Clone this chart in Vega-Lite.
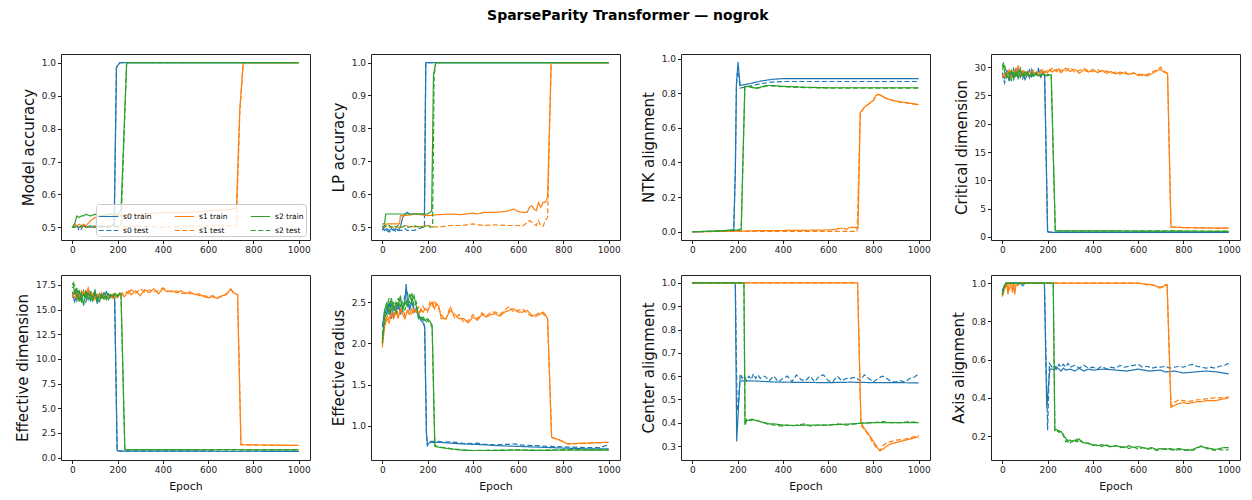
{
"$schema": "https://vega.github.io/schema/vega-lite/v6.json",
"padding": {"left": 14, "top": 8, "right": 5, "bottom": 5},
"background": "white",
"title": {"text": "SparseParity Transformer — nogrok", "fontSize": 14, "fontWeight": "bold", "font": "DejaVu Sans", "anchor": "middle", "color": "#000", "offset": 31},
"data": {"values": [
{"p":1,"x":0,"a":0.5,"b":0.5,"c":0.5,"d":0.5,"e":0.5,"f":0.5},
{"p":1,"x":10,"a":0.5,"b":0.51,"c":0.51,"d":0.5,"e":0.51,"f":0.5},
{"p":1,"x":20,"a":0.505,"b":0.51,"c":0.505,"d":0.505,"e":0.535,"f":0.505},
{"p":1,"x":30,"a":0.5,"b":0.49,"c":0.51,"d":0.5,"e":0.53,"f":0.5},
{"p":1,"x":40,"a":0.5,"b":0.495,"c":0.505,"d":0.5,"e":0.535,"f":0.505},
{"p":1,"x":50,"a":0.505,"b":0.51,"c":0.51,"d":0.505,"e":0.535,"f":0.5},
{"p":1,"x":60,"a":0.5,"b":0.5,"c":0.505,"d":0.5,"e":0.54,"f":0.5},
{"p":1,"x":80,"a":0.505,"b":0.5,"c":0.52,"d":0.5,"e":0.535,"f":0.505},
{"p":1,"x":100,"a":0.5,"b":0.505,"c":0.53,"d":0.505,"e":0.54,"f":0.5},
{"p":1,"x":130,"a":0.505,"b":0.5,"c":0.535,"d":0.5,"e":0.535,"f":0.505},
{"p":1,"x":160,"a":0.5,"b":0.505,"c":0.54,"d":0.505,"e":0.54,"f":0.5},
{"p":1,"x":185,"a":0.51,"b":0.505},
{"p":1,"x":195,"a":0.985,"b":0.985},
{"p":1,"x":200,"c":0.535,"d":0.5,"e":0.54,"f":0.505},
{"p":1,"x":210,"a":1,"b":1},
{"p":1,"x":215,"e":0.55,"f":0.505},
{"p":1,"x":240,"e":1,"f":1},
{"p":1,"x":300,"c":0.54,"d":0.505},
{"p":1,"x":400,"c":0.545,"d":0.5},
{"p":1,"x":500,"c":0.545,"d":0.505},
{"p":1,"x":600,"c":0.55,"d":0.505},
{"p":1,"x":700,"c":0.555,"d":0.505},
{"p":1,"x":725,"c":0.56,"d":0.505},
{"p":1,"x":740,"c":0.86,"d":0.85},
{"p":1,"x":755,"c":1,"d":1},
{"p":1,"x":1000,"a":1,"b":1,"c":1,"d":1,"e":1,"f":1},

{"p":2,"x":0,"a":0.5,"b":0.49,"c":0.5,"d":0.5,"e":0.51,"f":0.5},
{"p":2,"x":10,"a":0.49,"b":0.5,"c":0.505,"d":0.5,"e":0.51,"f":0.505},
{"p":2,"x":15,"e":0.54},
{"p":2,"x":20,"a":0.495,"b":0.49,"c":0.51,"d":0.505,"e":0.54,"f":0.5},
{"p":2,"x":30,"a":0.49,"b":0.485,"c":0.51,"d":0.5,"e":0.54,"f":0.505},
{"p":2,"x":40,"a":0.495,"b":0.49,"c":0.51,"d":0.5,"e":0.54,"f":0.5},
{"p":2,"x":50,"a":0.49,"b":0.495,"c":0.51,"d":0.5,"e":0.54,"f":0.505},
{"p":2,"x":60,"a":0.495,"b":0.485,"c":0.51,"d":0.5,"e":0.54,"f":0.5},
{"p":2,"x":70,"a":0.49,"b":0.49,"c":0.51,"d":0.5,"e":0.54,"f":0.505},
{"p":2,"x":76,"c":0.51},
{"p":2,"x":80,"a":0.5,"b":0.49,"c":0.535,"d":0.5,"e":0.54,"f":0.5},
{"p":2,"x":90,"a":0.53,"b":0.49,"e":0.54,"f":0.5},
{"p":2,"x":100,"a":0.54,"b":0.495,"c":0.535,"d":0.505,"e":0.54,"f":0.505},
{"p":2,"x":110,"a":0.545,"b":0.49,"e":0.54,"f":0.5},
{"p":2,"x":120,"a":0.54,"b":0.49,"e":0.54,"f":0.5},
{"p":2,"x":140,"a":0.54,"b":0.49,"e":0.54,"f":0.505},
{"p":2,"x":150,"c":0.54,"d":0.5},
{"p":2,"x":160,"a":0.54,"b":0.495,"e":0.54,"f":0.5},
{"p":2,"x":180,"a":0.54,"b":0.5,"e":0.54,"f":0.5},
{"p":2,"x":186,"a":0.54,"b":0.5},
{"p":2,"x":192,"a":1,"b":1},
{"p":2,"x":200,"c":0.535,"d":0.505,"e":0.54,"f":0.505},
{"p":2,"x":212,"e":0.545,"f":0.5},
{"p":2,"x":218,"e":0.55},
{"p":2,"x":222,"f":0.5},
{"p":2,"x":226,"e":0.96},
{"p":2,"x":229,"f":0.96},
{"p":2,"x":236,"e":1,"f":1},
{"p":2,"x":250,"c":0.538,"d":0.5},
{"p":2,"x":300,"c":0.54,"d":0.505},
{"p":2,"x":350,"c":0.538,"d":0.505},
{"p":2,"x":400,"c":0.543,"d":0.51},
{"p":2,"x":420,"c":0.54},
{"p":2,"x":450,"c":0.545,"d":0.505},
{"p":2,"x":500,"c":0.545,"d":0.507},
{"p":2,"x":550,"c":0.548,"d":0.505},
{"p":2,"x":580,"c":0.555,"d":0.505},
{"p":2,"x":600,"c":0.548,"d":0.505},
{"p":2,"x":620,"c":0.545,"d":0.503},
{"p":2,"x":640,"c":0.545},
{"p":2,"x":650,"c":0.56,"d":0.52},
{"p":2,"x":660,"c":0.565},
{"p":2,"x":670,"c":0.555,"d":0.51},
{"p":2,"x":680,"c":0.55,"d":0.505},
{"p":2,"x":690,"c":0.575,"d":0.52},
{"p":2,"x":700,"c":0.56,"d":0.505},
{"p":2,"x":710,"c":0.575,"d":0.502},
{"p":2,"x":720,"c":0.575,"d":0.52},
{"p":2,"x":730,"c":0.59,"d":0.53},
{"p":2,"x":746,"c":1,"d":1},
{"p":2,"x":1000,"a":1,"b":1,"c":1,"d":1,"e":1,"f":1},

{"p":3,"x":0,"a":0,"b":0,"c":0,"d":0,"e":0,"f":0},
{"p":3,"x":100,"a":0.002,"b":0.002,"e":0.003,"f":0.003},
{"p":3,"x":183,"a":0.01,"b":0.01},
{"p":3,"x":190,"a":0.35,"b":0.35},
{"p":3,"x":195,"a":0.86,"b":0.85},
{"p":3,"x":200,"c":0.003,"d":0.002,"e":0.01,"f":0.008},
{"p":3,"x":202,"a":0.98,"b":0.95},
{"p":3,"x":211,"a":0.845,"b":0.83},
{"p":3,"x":216,"e":0.015,"f":0.013},
{"p":3,"x":232,"e":0.84,"f":0.835},
{"p":3,"x":250,"a":0.855,"b":0.84,"e":0.84,"f":0.838},
{"p":3,"x":280,"e":0.83,"f":0.828},
{"p":3,"x":300,"a":0.87,"b":0.855,"c":0.006,"d":0.002,"e":0.835,"f":0.832},
{"p":3,"x":330,"e":0.845,"f":0.843},
{"p":3,"x":350,"a":0.88,"b":0.865,"e":0.845,"f":0.843},
{"p":3,"x":400,"a":0.885,"b":0.868,"c":0.007,"d":0.002,"e":0.84,"f":0.838},
{"p":3,"x":500,"c":0.008,"d":0.002,"e":0.835,"f":0.833},
{"p":3,"x":600,"c":0.01,"d":0.002,"e":0.832,"f":0.83},
{"p":3,"x":630,"c":0.012},
{"p":3,"x":650,"c":0.02},
{"p":3,"x":670,"c":0.02},
{"p":3,"x":680,"c":0.012},
{"p":3,"x":690,"c":0.022},
{"p":3,"x":700,"c":0.025,"d":0.002},
{"p":3,"x":720,"c":0.025},
{"p":3,"x":728,"d":0.002},
{"p":3,"x":732,"c":0.02},
{"p":3,"x":742,"c":0.69,"d":0.685},
{"p":3,"x":750,"c":0.7,"d":0.7},
{"p":3,"x":760,"c":0.72,"d":0.718},
{"p":3,"x":780,"c":0.74,"d":0.738},
{"p":3,"x":800,"c":0.76,"d":0.758},
{"p":3,"x":810,"c":0.785,"d":0.783},
{"p":3,"x":820,"c":0.795,"d":0.793},
{"p":3,"x":830,"c":0.79,"d":0.79},
{"p":3,"x":850,"c":0.775,"d":0.773},
{"p":3,"x":870,"c":0.765,"d":0.763},
{"p":3,"x":900,"c":0.755,"d":0.753},
{"p":3,"x":950,"c":0.745,"d":0.743},
{"p":3,"x":1000,"a":0.885,"b":0.868,"c":0.735,"d":0.733,"e":0.832,"f":0.83},

{"p":4,"x":0,"a":28.5,"b":29,"c":28,"d":28.5,"e":30,"f":29.5},
{"p":4,"x":5,"e":30.8},
{"p":4,"x":10,"a":28,"b":27.2,"c":29,"d":28.4,"e":29,"f":30.5},
{"p":4,"x":20,"a":29.5,"b":28.5,"c":28.3,"d":29.2,"e":28.5,"f":28.2},
{"p":4,"x":30,"a":27.5,"b":29.2,"c":29.5,"d":28.6,"e":28,"f":29},
{"p":4,"x":40,"a":29,"b":28,"c":28,"d":29.4,"e":29.5,"f":27.5},
{"p":4,"x":50,"a":28.2,"b":29.7,"c":29.3,"d":28.7,"e":27.8,"f":29.3},
{"p":4,"x":60,"a":29.8,"b":28.4,"c":28.5,"d":29.8,"e":29,"f":28.1},
{"p":4,"x":70,"a":28,"b":28.9,"c":30.3,"d":29.1,"e":28.3,"f":29.6},
{"p":4,"x":80,"a":28.8,"b":29.8,"c":28.3,"d":28.8,"e":29.5,"f":28.2},
{"p":4,"x":90,"a":29.3,"b":27.9,"c":29,"d":29.4,"e":28.4,"f":29},
{"p":4,"x":100,"a":27.8,"b":28.8,"c":28.6,"d":28.9,"e":29.2,"f":28.5},
{"p":4,"x":110,"a":28.6,"b":29.2,"c":29.2,"d":28.6,"e":28.6,"f":29.3},
{"p":4,"x":120,"a":29.5,"b":28.1,"c":28.4,"d":29.3,"e":28.2,"f":28.4},
{"p":4,"x":130,"a":28.3,"b":29.6,"c":29.3,"d":28.9,"e":29,"f":28.9},
{"p":4,"x":140,"a":29,"b":28.5,"c":28.8,"d":29.4,"e":28.5,"f":28.2},
{"p":4,"x":150,"a":28.6,"b":28.9,"c":29,"d":28.7,"e":28.8,"f":29.1},
{"p":4,"x":160,"a":29.4,"b":29.7,"c":28.6,"d":29.3,"e":28.4,"f":28.7},
{"p":4,"x":170,"a":28.4,"b":28.2,"c":29.5,"d":29,"e":28.6,"f":28.5},
{"p":4,"x":180,"a":29.2,"b":28.8,"c":28.8,"d":29.6,"e":28.7,"f":28.9},
{"p":4,"x":187,"a":28.5,"b":28.4},
{"p":4,"x":190,"c":29.3,"d":29,"e":28.5,"f":28.6},
{"p":4,"x":200,"a":0.9,"b":1.0,"c":29,"d":29.4,"e":28.7,"f":28.4},
{"p":4,"x":210,"a":0.8,"b":0.85,"c":29.6,"d":29.2,"e":28.6,"f":28.7},
{"p":4,"x":216,"e":28.6,"f":28.6},
{"p":4,"x":220,"c":29.1,"d":29.8},
{"p":4,"x":230,"c":29.5,"d":29.3},
{"p":4,"x":234,"e":1.1,"f":1.1},
{"p":4,"x":240,"c":29.2,"d":29.6},
{"p":4,"x":250,"c":29.7,"d":29},
{"p":4,"x":260,"c":29,"d":29.5},
{"p":4,"x":280,"c":29.8,"d":29.3},
{"p":4,"x":300,"c":29.2,"d":29.9},
{"p":4,"x":320,"c":29.6,"d":29.1},
{"p":4,"x":340,"c":28.9,"d":29.4},
{"p":4,"x":360,"c":29.5,"d":29.8},
{"p":4,"x":380,"c":29.1,"d":29.3},
{"p":4,"x":400,"c":29.6,"d":29.2},
{"p":4,"x":420,"c":29,"d":29.6},
{"p":4,"x":440,"c":29.4,"d":29.1},
{"p":4,"x":460,"c":28.9,"d":29.3},
{"p":4,"x":480,"c":29.2,"d":28.9},
{"p":4,"x":500,"c":28.8,"d":29.1},
{"p":4,"x":520,"c":29.1,"d":28.7},
{"p":4,"x":540,"c":28.9,"d":29.2},
{"p":4,"x":560,"c":28.7,"d":28.6},
{"p":4,"x":580,"c":29,"d":28.9},
{"p":4,"x":600,"c":28.5,"d":28.8},
{"p":4,"x":620,"c":28.7,"d":28.5},
{"p":4,"x":640,"c":28.4,"d":28.7},
{"p":4,"x":660,"c":28.8,"d":29.1},
{"p":4,"x":680,"c":29.3,"d":29.4},
{"p":4,"x":700,"c":29.6,"d":30},
{"p":4,"x":710,"c":29.2,"d":29.5},
{"p":4,"x":720,"c":29,"d":29.1},
{"p":4,"x":730,"c":28.8,"d":28.9},
{"p":4,"x":745,"c":1.8,"d":1.8},
{"p":4,"x":800,"c":1.65,"d":1.65},
{"p":4,"x":1000,"a":0.8,"b":0.85,"c":1.55,"d":1.55,"e":1.0,"f":1.05},

{"p":5,"x":0,"a":16.8,"b":16.2,"c":16.3,"d":16.5,"e":17.5,"f":17.2},
{"p":5,"x":5,"e":17.7},
{"p":5,"x":10,"a":15.8,"b":16.9,"c":16.9,"d":16.2,"e":16.5,"f":17.5},
{"p":5,"x":20,"a":16.5,"b":15.9,"c":16.1,"d":16.8,"e":17.2,"f":16.2},
{"p":5,"x":30,"a":16.9,"b":16.6,"c":16.6,"d":16.2,"e":15.8,"f":16.9},
{"p":5,"x":40,"a":16,"b":16.3,"c":16.3,"d":16.9,"e":16.8,"f":15.6},
{"p":5,"x":50,"a":16.6,"b":16.9,"c":16.8,"d":16.4,"e":15.4,"f":16.5},
{"p":5,"x":60,"a":16.2,"b":15.8,"c":16.5,"d":17,"e":16.9,"f":16.1},
{"p":5,"x":70,"a":16.8,"b":16.5,"c":17.2,"d":16.6,"e":16,"f":16.8},
{"p":5,"x":80,"a":15.9,"b":17,"c":16.3,"d":16.9,"e":16.6,"f":15.9},
{"p":5,"x":90,"a":16.4,"b":16.1,"c":16.6,"d":16.2,"e":15.8,"f":16.4},
{"p":5,"x":100,"a":16.9,"b":16.5,"c":16,"d":16.7,"e":16.9,"f":16.6},
{"p":5,"x":110,"a":15.6,"b":16.2,"c":16.5,"d":16.3,"e":16.2,"f":15.9},
{"p":5,"x":120,"a":16.3,"b":16.7,"c":16.2,"d":16.6,"e":15.8,"f":16.6},
{"p":5,"x":130,"a":16.6,"b":16,"c":16.7,"d":16.3,"e":16.5,"f":16.2},
{"p":5,"x":140,"a":16.1,"b":16.6,"c":16.1,"d":16.6,"e":16.1,"f":16.7},
{"p":5,"x":150,"a":16.8,"b":16.3,"c":16.4,"d":16.2,"e":16.4,"f":16},
{"p":5,"x":160,"a":16.4,"b":16.7,"c":16.2,"d":16.5,"e":16,"f":16.6},
{"p":5,"x":170,"a":16.5,"b":16.2,"c":16.5,"d":16.3,"e":16.5,"f":16.2},
{"p":5,"x":180,"a":16.3,"b":16.5,"c":16.1,"d":16.6,"e":16.3,"f":16.4},
{"p":5,"x":187,"a":16.2,"b":16.4},
{"p":5,"x":190,"c":16.4,"d":16.3,"e":16.6,"f":16.7},
{"p":5,"x":198,"a":0.7,"b":0.7},
{"p":5,"x":200,"c":16.2,"d":16.5,"e":16.4,"f":16.3},
{"p":5,"x":210,"a":0.65,"b":0.65,"c":16.6,"d":16.4,"e":16.7,"f":16.6},
{"p":5,"x":215,"e":16.6,"f":16.6},
{"p":5,"x":220,"c":16.5,"d":16.7},
{"p":5,"x":230,"c":16.3,"d":16.5},
{"p":5,"x":232,"e":0.8,"f":0.8},
{"p":5,"x":240,"c":16.6,"d":16.8},
{"p":5,"x":250,"c":16.9,"d":16.6},
{"p":5,"x":260,"c":16.5,"d":17},
{"p":5,"x":280,"c":16.9,"d":16.6},
{"p":5,"x":300,"c":16.4,"d":17.1},
{"p":5,"x":320,"c":17,"d":16.8},
{"p":5,"x":340,"c":16.7,"d":17},
{"p":5,"x":360,"c":17.1,"d":16.8},
{"p":5,"x":380,"c":16.6,"d":16.9},
{"p":5,"x":400,"c":17.1,"d":17.2},
{"p":5,"x":420,"c":16.8,"d":16.9},
{"p":5,"x":440,"c":16.9,"d":16.8},
{"p":5,"x":460,"c":16.7,"d":16.9},
{"p":5,"x":480,"c":16.9,"d":16.6},
{"p":5,"x":500,"c":16.6,"d":16.7},
{"p":5,"x":520,"c":16.8,"d":16.6},
{"p":5,"x":540,"c":16.5,"d":16.6},
{"p":5,"x":560,"c":16.6,"d":16.4},
{"p":5,"x":580,"c":16.3,"d":16.4},
{"p":5,"x":600,"c":16.2,"d":16.3},
{"p":5,"x":620,"c":16.3,"d":16.4},
{"p":5,"x":640,"c":16.1,"d":16.2},
{"p":5,"x":660,"c":16.4,"d":16.3},
{"p":5,"x":680,"c":16.5,"d":16.6},
{"p":5,"x":700,"c":17.1,"d":17},
{"p":5,"x":710,"c":16.7,"d":16.8},
{"p":5,"x":720,"c":16.6,"d":16.6},
{"p":5,"x":730,"c":16.5,"d":16.5},
{"p":5,"x":745,"c":1.3,"d":1.3},
{"p":5,"x":800,"c":1.28,"d":1.28},
{"p":5,"x":1000,"a":0.63,"b":0.63,"c":1.22,"d":1.22,"e":0.78,"f":0.8},

{"p":6,"x":0,"a":2.2,"b":2.1,"c":1.95,"d":2.0,"e":2.0,"f":2.05},
{"p":6,"x":10,"a":2.4,"b":2.3,"c":2.2,"d":2.25,"e":2.4,"f":2.25},
{"p":6,"x":20,"a":2.35,"b":2.45,"c":2.3,"d":2.35,"e":2.5,"f":2.45},
{"p":6,"x":30,"a":2.5,"b":2.35,"c":2.25,"d":2.28,"e":2.35,"f":2.55},
{"p":6,"x":40,"a":2.3,"b":2.5,"c":2.35,"d":2.4,"e":2.55,"f":2.4},
{"p":6,"x":50,"a":2.45,"b":2.3,"c":2.3,"d":2.32,"e":2.4,"f":2.5},
{"p":6,"x":60,"a":2.38,"b":2.48,"c":2.4,"d":2.45,"e":2.5,"f":2.35},
{"p":6,"x":70,"a":2.5,"b":2.4,"c":2.3,"d":2.35,"e":2.45,"f":2.55},
{"p":6,"x":80,"a":2.35,"b":2.55,"c":2.42,"d":2.38,"e":2.58,"f":2.45},
{"p":6,"x":90,"a":2.45,"b":2.38,"c":2.35,"d":2.42,"e":2.4,"f":2.5},
{"p":6,"x":100,"a":2.5,"b":2.6,"c":2.3,"d":2.33,"e":2.5,"f":2.4},
{"p":6,"x":105,"a":2.72},
{"p":6,"x":110,"a":2.55,"b":2.62,"c":2.4,"d":2.38,"e":2.45,"f":2.55},
{"p":6,"x":120,"a":2.4,"b":2.45,"c":2.35,"d":2.4,"e":2.6,"f":2.5},
{"p":6,"x":130,"a":2.5,"b":2.55,"c":2.42,"d":2.36,"e":2.5,"f":2.62},
{"p":6,"x":140,"a":2.42,"b":2.38,"c":2.38,"d":2.43,"e":2.58,"f":2.45},
{"p":6,"x":150,"a":2.38,"b":2.45,"c":2.4,"d":2.37,"e":2.45,"f":2.5},
{"p":6,"x":160,"a":2.35,"b":2.3,"c":2.35,"d":2.44,"e":2.35,"f":2.32},
{"p":6,"x":170,"a":2.28,"b":2.32,"c":2.42,"d":2.38,"e":2.3,"f":2.28},
{"p":6,"x":180,"a":2.25,"b":2.28,"c":2.38,"d":2.45,"e":2.32,"f":2.3},
{"p":6,"x":187,"a":2.2,"b":2.2},
{"p":6,"x":190,"c":2.42,"d":2.4,"e":2.28,"f":2.25},
{"p":6,"x":195,"a":0.9,"b":0.92},
{"p":6,"x":199,"a":0.77,"b":0.76},
{"p":6,"x":200,"c":2.4,"d":2.38,"e":2.3,"f":2.28},
{"p":6,"x":210,"a":0.8,"b":0.81,"c":2.45,"d":2.5,"e":2.27,"f":2.25},
{"p":6,"x":220,"c":2.5,"d":2.45,"e":2.22,"f":2.2},
{"p":6,"x":230,"c":2.42,"d":2.52},
{"p":6,"x":232,"e":0.75,"f":0.76},
{"p":6,"x":240,"c":2.48,"d":2.45},
{"p":6,"x":250,"a":0.8,"b":0.81,"c":2.45,"d":2.42,"e":0.74,"f":0.745},
{"p":6,"x":260,"c":2.3,"d":2.35},
{"p":6,"x":270,"b":0.8},
{"p":6,"x":280,"c":2.3,"d":2.28},
{"p":6,"x":300,"a":0.79,"b":0.805,"c":2.4,"d":2.45,"e":0.72,"f":0.725},
{"p":6,"x":320,"c":2.35,"d":2.3},
{"p":6,"x":340,"c":2.3,"d":2.35},
{"p":6,"x":350,"a":0.78,"b":0.79,"e":0.705,"f":0.71},
{"p":6,"x":360,"c":2.3,"d":2.25},
{"p":6,"x":380,"c":2.25,"d":2.28},
{"p":6,"x":400,"a":0.775,"b":0.785,"c":2.32,"d":2.35,"e":0.7,"f":0.7},
{"p":6,"x":420,"b":0.79,"c":2.28,"d":2.3},
{"p":6,"x":440,"c":2.35,"d":2.37},
{"p":6,"x":450,"a":0.77,"b":0.775},
{"p":6,"x":460,"c":2.32,"d":2.33},
{"p":6,"x":480,"c":2.35,"d":2.38},
{"p":6,"x":500,"a":0.76,"b":0.77,"c":2.36,"d":2.38,"e":0.7,"f":0.705},
{"p":6,"x":520,"c":2.33,"d":2.35},
{"p":6,"x":540,"c":2.38,"d":2.4},
{"p":6,"x":550,"b":0.775},
{"p":6,"x":560,"c":2.4,"d":2.45},
{"p":6,"x":580,"b":0.78,"c":2.42,"d":2.38},
{"p":6,"x":600,"a":0.75,"c":2.38,"d":2.4,"e":0.705,"f":0.708},
{"p":6,"x":620,"b":0.765,"c":2.38,"d":2.42},
{"p":6,"x":640,"c":2.4,"d":2.36},
{"p":6,"x":660,"c":2.34,"d":2.33},
{"p":6,"x":680,"c":2.33,"d":2.35},
{"p":6,"x":700,"a":0.74,"b":0.755,"c":2.36,"d":2.38,"e":0.7,"f":0.705},
{"p":6,"x":710,"c":2.38,"d":2.36},
{"p":6,"x":720,"c":2.35,"d":2.33},
{"p":6,"x":730,"c":2.3,"d":2.3},
{"p":6,"x":748,"c":0.86,"d":0.86},
{"p":6,"x":780,"c":0.83,"d":0.83},
{"p":6,"x":800,"a":0.73,"b":0.745,"e":0.705,"f":0.71},
{"p":6,"x":820,"c":0.78,"d":0.78},
{"p":6,"x":900,"a":0.72,"b":0.735,"c":0.79,"d":0.79,"e":0.705,"f":0.71},
{"p":6,"x":960,"b":0.735},
{"p":6,"x":1000,"a":0.72,"b":0.77,"c":0.8,"d":0.8,"e":0.705,"f":0.71},

{"p":7,"x":0,"a":1,"b":1,"c":1,"d":1,"e":1,"f":1},
{"p":7,"x":190,"a":1,"b":1},
{"p":7,"x":196,"a":0.32},
{"p":7,"x":198,"b":0.45},
{"p":7,"x":205,"b":0.5},
{"p":7,"x":210,"a":0.58},
{"p":7,"x":212,"b":0.61},
{"p":7,"x":220,"b":0.59},
{"p":7,"x":228,"e":1,"f":1},
{"p":7,"x":230,"b":0.6},
{"p":7,"x":233,"e":0.39,"f":0.39},
{"p":7,"x":240,"b":0.58,"e":0.41,"f":0.415},
{"p":7,"x":250,"a":0.58,"b":0.6,"e":0.41},
{"p":7,"x":260,"b":0.585,"e":0.415,"f":0.41},
{"p":7,"x":270,"b":0.61,"f":0.415},
{"p":7,"x":280,"b":0.59,"e":0.41},
{"p":7,"x":290,"b":0.605},
{"p":7,"x":300,"a":0.578,"b":0.59,"e":0.405,"f":0.405},
{"p":7,"x":320,"b":0.6,"e":0.4},
{"p":7,"x":330,"f":0.395},
{"p":7,"x":340,"b":0.58,"e":0.395},
{"p":7,"x":350,"a":0.575},
{"p":7,"x":360,"b":0.6,"e":0.395,"f":0.39},
{"p":7,"x":380,"b":0.575},
{"p":7,"x":400,"a":0.574,"b":0.59,"e":0.39,"f":0.385},
{"p":7,"x":420,"b":0.6,"f":0.39},
{"p":7,"x":440,"b":0.575,"f":0.385},
{"p":7,"x":450,"e":0.388},
{"p":7,"x":460,"b":0.605,"f":0.39},
{"p":7,"x":480,"b":0.585},
{"p":7,"x":500,"a":0.573,"b":0.58,"e":0.39,"f":0.395},
{"p":7,"x":520,"b":0.6,"f":0.385},
{"p":7,"x":540,"b":0.575},
{"p":7,"x":560,"b":0.6,"f":0.39},
{"p":7,"x":580,"b":0.605},
{"p":7,"x":600,"a":0.572,"b":0.58,"e":0.39,"f":0.39},
{"p":7,"x":620,"b":0.575},
{"p":7,"x":640,"b":0.6,"f":0.395},
{"p":7,"x":660,"b":0.58},
{"p":7,"x":680,"b":0.59,"f":0.39},
{"p":7,"x":700,"a":0.574,"b":0.59,"e":0.395},
{"p":7,"x":720,"b":0.595,"f":0.395},
{"p":7,"x":730,"c":1,"d":1},
{"p":7,"x":740,"b":0.58},
{"p":7,"x":745,"c":0.4,"d":0.39},
{"p":7,"x":760,"b":0.605,"c":0.375,"d":0.37,"f":0.4},
{"p":7,"x":780,"b":0.59,"c":0.35,"d":0.345},
{"p":7,"x":800,"a":0.572,"b":0.575,"c":0.32,"d":0.31,"e":0.4,"f":0.4},
{"p":7,"x":820,"b":0.59,"c":0.29,"d":0.285},
{"p":7,"x":830,"c":0.28,"d":0.28},
{"p":7,"x":840,"b":0.6,"c":0.285,"d":0.3,"f":0.405},
{"p":7,"x":860,"b":0.59,"c":0.3,"d":0.315},
{"p":7,"x":880,"b":0.575,"c":0.31,"d":0.32,"f":0.4},
{"p":7,"x":900,"a":0.572,"b":0.575,"c":0.315,"d":0.325,"e":0.4},
{"p":7,"x":920,"b":0.58,"f":0.4},
{"p":7,"x":940,"b":0.575,"c":0.325,"d":0.33},
{"p":7,"x":960,"b":0.59,"f":0.405},
{"p":7,"x":980,"b":0.595,"c":0.335,"d":0.34},
{"p":7,"x":1000,"a":0.571,"b":0.61,"c":0.34,"d":0.345,"e":0.4,"f":0.4},

{"p":8,"x":0,"a":0.96,"b":0.95,"c":0.93,"d":0.93,"e":0.94,"f":0.94},
{"p":8,"x":10,"a":0.99,"b":0.98,"c":0.97,"d":0.98,"e":0.99},
{"p":8,"x":15,"e":1,"f":1},
{"p":8,"x":20,"a":1,"b":1,"c":0.99,"d":1},
{"p":8,"x":25,"c":0.94},
{"p":8,"x":30,"c":1,"d":0.96},
{"p":8,"x":40,"c":0.99,"d":1},
{"p":8,"x":45,"c":0.95},
{"p":8,"x":50,"c":1},
{"p":8,"x":55,"c":0.94},
{"p":8,"x":60,"c":0.99,"d":0.98},
{"p":8,"x":70,"c":0.99},
{"p":8,"x":80,"a":1,"c":1,"d":1},
{"p":8,"x":90,"a":0.985},
{"p":8,"x":100,"a":1},
{"p":8,"x":186,"a":1,"b":1},
{"p":8,"x":196,"a":0.35},
{"p":8,"x":200,"b":0.23},
{"p":8,"x":208,"b":0.58},
{"p":8,"x":210,"a":0.55},
{"p":8,"x":220,"a":0.55,"b":0.56},
{"p":8,"x":225,"e":1,"f":1},
{"p":8,"x":230,"a":0.545,"b":0.57},
{"p":8,"x":232,"e":0.23,"f":0.23},
{"p":8,"x":240,"a":0.56,"b":0.55,"e":0.235,"f":0.22},
{"p":8,"x":250,"a":0.55,"b":0.575,"e":0.22,"f":0.23},
{"p":8,"x":260,"a":0.54,"b":0.56,"e":0.225,"f":0.215},
{"p":8,"x":270,"a":0.555,"b":0.575,"e":0.2,"f":0.21},
{"p":8,"x":280,"a":0.545,"b":0.56,"e":0.19,"f":0.17},
{"p":8,"x":290,"b":0.58,"e":0.17,"f":0.18},
{"p":8,"x":300,"a":0.55,"b":0.56,"e":0.18,"f":0.165},
{"p":8,"x":310,"e":0.17,"f":0.175},
{"p":8,"x":320,"a":0.54,"b":0.57,"e":0.18,"f":0.165},
{"p":8,"x":330,"e":0.17,"f":0.185},
{"p":8,"x":340,"a":0.555,"b":0.555,"e":0.185,"f":0.17},
{"p":8,"x":350,"e":0.17,"f":0.175},
{"p":8,"x":360,"a":0.54,"b":0.57,"e":0.165,"f":0.16},
{"p":8,"x":380,"a":0.55,"b":0.555,"e":0.16,"f":0.165},
{"p":8,"x":400,"a":0.545,"b":0.56,"e":0.155,"f":0.15},
{"p":8,"x":420,"b":0.55,"e":0.15,"f":0.155},
{"p":8,"x":440,"b":0.565,"e":0.155,"f":0.145},
{"p":8,"x":450,"a":0.55},
{"p":8,"x":460,"b":0.55,"e":0.15,"f":0.155},
{"p":8,"x":480,"b":0.56,"e":0.145,"f":0.14},
{"p":8,"x":500,"a":0.545,"b":0.555,"e":0.15,"f":0.15},
{"p":8,"x":520,"b":0.57,"e":0.145,"f":0.14},
{"p":8,"x":540,"b":0.56,"e":0.14,"f":0.145},
{"p":8,"x":550,"a":0.54},
{"p":8,"x":560,"b":0.565,"e":0.15,"f":0.135},
{"p":8,"x":580,"b":0.57,"e":0.14,"f":0.145},
{"p":8,"x":600,"a":0.55,"b":0.575,"c":1,"d":1,"e":0.145,"f":0.13},
{"p":8,"x":620,"b":0.56,"c":0.995,"d":0.995,"e":0.14,"f":0.14},
{"p":8,"x":640,"b":0.565,"c":0.995,"d":0.99,"e":0.135,"f":0.13},
{"p":8,"x":650,"a":0.54},
{"p":8,"x":660,"b":0.555,"c":0.99,"d":0.99,"e":0.14,"f":0.135},
{"p":8,"x":680,"b":0.56,"c":0.985,"d":0.985,"e":0.13,"f":0.125},
{"p":8,"x":690,"c":0.975,"d":0.98},
{"p":8,"x":700,"a":0.545,"b":0.56,"c":0.975,"d":0.98,"e":0.135,"f":0.13},
{"p":8,"x":710,"c":0.98,"d":0.98},
{"p":8,"x":720,"a":0.535,"b":0.565,"c":0.99,"d":0.99,"e":0.13,"f":0.135},
{"p":8,"x":728,"c":0.99,"d":0.99},
{"p":8,"x":740,"b":0.555,"e":0.135,"f":0.13},
{"p":8,"x":745,"c":0.35,"d":0.36},
{"p":8,"x":760,"a":0.54,"b":0.56,"c":0.36,"d":0.375,"e":0.13,"f":0.125},
{"p":8,"x":780,"b":0.565,"c":0.37,"d":0.39,"e":0.135,"f":0.13},
{"p":8,"x":800,"a":0.53,"b":0.56,"c":0.375,"d":0.385,"e":0.13,"f":0.125},
{"p":8,"x":820,"b":0.57,"c":0.37,"d":0.38,"e":0.125,"f":0.13},
{"p":8,"x":840,"b":0.575,"c":0.375,"d":0.385,"e":0.13,"f":0.125},
{"p":8,"x":850,"a":0.535},
{"p":8,"x":860,"b":0.565,"c":0.38,"d":0.39,"e":0.14,"f":0.135},
{"p":8,"x":880,"b":0.56,"c":0.38,"d":0.39,"e":0.145,"f":0.15},
{"p":8,"x":900,"a":0.54,"b":0.555,"c":0.385,"d":0.395,"e":0.14,"f":0.135},
{"p":8,"x":920,"b":0.56,"e":0.135,"f":0.13},
{"p":8,"x":940,"b":0.555,"c":0.385,"d":0.4,"e":0.13,"f":0.125},
{"p":8,"x":950,"a":0.535},
{"p":8,"x":960,"b":0.565,"e":0.135,"f":0.13},
{"p":8,"x":980,"b":0.57,"c":0.395,"d":0.4,"e":0.14,"f":0.125},
{"p":8,"x":1000,"a":0.525,"b":0.58,"c":0.4,"d":0.405,"e":0.14,"f":0.13}
]},
"transform": [
{"fold": ["a","b","c","d","e","f"], "as": ["k","v"]},
{"filter": "isValid(datum.v)"}
],
"columns": 4,
"spacing": {"row": 19, "column": 19},
"resolve": {"scale": {"x": "independent", "y": "independent", "color": "independent", "strokeDash": "independent"}},
"concat": [
{"width": 249, "height": 186, "transform": [{"filter": "datum.p == 1"}],
 "mark": {"type": "line", "strokeWidth": 1.2, "clip": true},
 "encoding": {
  "x": {"field": "x", "type": "quantitative", "scale": {"domain": [-50, 1050], "nice": false, "zero": false}, "axis": {"values": [0,200,400,600,800,1000], "format": "d", "title": null}},
  "y": {"field": "v", "type": "quantitative", "scale": {"domain": [0.462, 1.026], "nice": false, "zero": false}, "axis": {"values": [0.5,0.6,0.7,0.8,0.9,1.0], "format": ".1f", "title": "Model accuracy"}},
  "color": {"field": "k", "type": "nominal", "scale": {"domain": ["a","b","c","d","e","f"], "range": ["#1f77b4","#1f77b4","#ff7f0e","#ff7f0e","#2ca02c","#2ca02c"]},
   "legend": {"title": null, "orient": "bottom-right", "columns": 3, "offset": 4, "padding": 2, "fillColor": "rgba(255,255,255,0.8)", "strokeColor": "#cccccc", "cornerRadius": 3, "symbolType": "stroke", "symbolSize": 380, "symbolStrokeWidth": 1.2, "labelFontSize": 7.5, "labelOffset": 4, "columnPadding": 20, "rowPadding": -2, "labelExpr": "{'a':'s0 train','b':'s0 test','c':'s1 train','d':'s1 test','e':'s2 train','f':'s2 test'}[datum.label]"}},
  "strokeDash": {"field": "k", "type": "nominal", "scale": {"domain": ["a","b","c","d","e","f"], "range": [[1,0],[5,2.5],[1,0],[5,2.5],[1,0],[5,2.5]]},
   "legend": {"title": null, "orient": "bottom-right", "columns": 3, "offset": 4, "padding": 2, "fillColor": "rgba(255,255,255,0.8)", "strokeColor": "#cccccc", "cornerRadius": 3, "symbolType": "stroke", "symbolSize": 380, "symbolStrokeWidth": 1.2, "labelFontSize": 7.5, "labelOffset": 4, "columnPadding": 20, "rowPadding": -2, "labelExpr": "{'a':'s0 train','b':'s0 test','c':'s1 train','d':'s1 test','e':'s2 train','f':'s2 test'}[datum.label]"}}
 }},
{"width": 249, "height": 186, "transform": [{"filter": "datum.p == 2"}],
 "mark": {"type": "line", "strokeWidth": 1.2, "clip": true},
 "encoding": {
  "x": {"field": "x", "type": "quantitative", "scale": {"domain": [-50, 1050], "nice": false, "zero": false}, "axis": {"values": [0,200,400,600,800,1000], "format": "d", "title": null}},
  "y": {"field": "v", "type": "quantitative", "scale": {"domain": [0.461, 1.026], "nice": false, "zero": false}, "axis": {"values": [0.5,0.6,0.7,0.8,0.9,1.0], "format": ".1f", "title": "LP accuracy"}},
  "color": {"field": "k", "type": "nominal", "scale": {"domain": ["a","b","c","d","e","f"], "range": ["#1f77b4","#1f77b4","#ff7f0e","#ff7f0e","#2ca02c","#2ca02c"]}, "legend": null},
  "strokeDash": {"field": "k", "type": "nominal", "scale": {"domain": ["a","b","c","d","e","f"], "range": [[1,0],[5,2.5],[1,0],[5,2.5],[1,0],[5,2.5]]}, "legend": null}
 }},
{"width": 249, "height": 186, "transform": [{"filter": "datum.p == 3"}],
 "mark": {"type": "line", "strokeWidth": 1.2, "clip": true},
 "encoding": {
  "x": {"field": "x", "type": "quantitative", "scale": {"domain": [-50, 1050], "nice": false, "zero": false}, "axis": {"values": [0,200,400,600,800,1000], "format": "d", "title": null}},
  "y": {"field": "v", "type": "quantitative", "scale": {"domain": [-0.048, 1.027], "nice": false, "zero": false}, "axis": {"values": [0,0.2,0.4,0.6,0.8,1.0], "format": ".1f", "title": "NTK alignment"}},
  "color": {"field": "k", "type": "nominal", "scale": {"domain": ["a","b","c","d","e","f"], "range": ["#1f77b4","#1f77b4","#ff7f0e","#ff7f0e","#2ca02c","#2ca02c"]}, "legend": null},
  "strokeDash": {"field": "k", "type": "nominal", "scale": {"domain": ["a","b","c","d","e","f"], "range": [[1,0],[5,2.5],[1,0],[5,2.5],[1,0],[5,2.5]]}, "legend": null}
 }},
{"width": 249, "height": 186, "transform": [{"filter": "datum.p == 4"}],
 "mark": {"type": "line", "strokeWidth": 1.2, "clip": true},
 "encoding": {
  "x": {"field": "x", "type": "quantitative", "scale": {"domain": [-50, 1050], "nice": false, "zero": false}, "axis": {"values": [0,200,400,600,800,1000], "format": "d", "title": null}},
  "y": {"field": "v", "type": "quantitative", "scale": {"domain": [-0.53, 32.3], "nice": false, "zero": false}, "axis": {"values": [0,5,10,15,20,25,30], "format": "d", "title": "Critical dimension"}},
  "color": {"field": "k", "type": "nominal", "scale": {"domain": ["a","b","c","d","e","f"], "range": ["#1f77b4","#1f77b4","#ff7f0e","#ff7f0e","#2ca02c","#2ca02c"]}, "legend": null},
  "strokeDash": {"field": "k", "type": "nominal", "scale": {"domain": ["a","b","c","d","e","f"], "range": [[1,0],[5,2.5],[1,0],[5,2.5],[1,0],[5,2.5]]}, "legend": null}
 }},
{"width": 249, "height": 185, "transform": [{"filter": "datum.p == 5"}],
 "mark": {"type": "line", "strokeWidth": 1.2, "clip": true},
 "encoding": {
  "x": {"field": "x", "type": "quantitative", "scale": {"domain": [-50, 1050], "nice": false, "zero": false}, "axis": {"values": [0,200,400,600,800,1000], "format": "d", "title": "Epoch"}},
  "y": {"field": "v", "type": "quantitative", "scale": {"domain": [-0.25, 18.5], "nice": false, "zero": false}, "axis": {"values": [0,2.5,5,7.5,10,12.5,15,17.5], "format": ".1f", "title": "Effective dimension"}},
  "color": {"field": "k", "type": "nominal", "scale": {"domain": ["a","b","c","d","e","f"], "range": ["#1f77b4","#1f77b4","#ff7f0e","#ff7f0e","#2ca02c","#2ca02c"]}, "legend": null},
  "strokeDash": {"field": "k", "type": "nominal", "scale": {"domain": ["a","b","c","d","e","f"], "range": [[1,0],[5,2.5],[1,0],[5,2.5],[1,0],[5,2.5]]}, "legend": null}
 }},
{"width": 249, "height": 185, "transform": [{"filter": "datum.p == 6"}],
 "mark": {"type": "line", "strokeWidth": 1.2, "clip": true},
 "encoding": {
  "x": {"field": "x", "type": "quantitative", "scale": {"domain": [-50, 1050], "nice": false, "zero": false}, "axis": {"values": [0,200,400,600,800,1000], "format": "d", "title": "Epoch"}},
  "y": {"field": "v", "type": "quantitative", "scale": {"domain": [0.585, 2.83], "nice": false, "zero": false}, "axis": {"values": [1.0,1.5,2.0,2.5], "format": ".1f", "title": "Effective radius"}},
  "color": {"field": "k", "type": "nominal", "scale": {"domain": ["a","b","c","d","e","f"], "range": ["#1f77b4","#1f77b4","#ff7f0e","#ff7f0e","#2ca02c","#2ca02c"]}, "legend": null},
  "strokeDash": {"field": "k", "type": "nominal", "scale": {"domain": ["a","b","c","d","e","f"], "range": [[1,0],[5,2.5],[1,0],[5,2.5],[1,0],[5,2.5]]}, "legend": null}
 }},
{"width": 249, "height": 185, "transform": [{"filter": "datum.p == 7"}],
 "mark": {"type": "line", "strokeWidth": 1.2, "clip": true},
 "encoding": {
  "x": {"field": "x", "type": "quantitative", "scale": {"domain": [-50, 1050], "nice": false, "zero": false}, "axis": {"values": [0,200,400,600,800,1000], "format": "d", "title": "Epoch"}},
  "y": {"field": "v", "type": "quantitative", "scale": {"domain": [0.24, 1.034], "nice": false, "zero": false}, "axis": {"values": [0.3,0.4,0.5,0.6,0.7,0.8,0.9,1.0], "format": ".1f", "title": "Center alignment"}},
  "color": {"field": "k", "type": "nominal", "scale": {"domain": ["a","b","c","d","e","f"], "range": ["#1f77b4","#1f77b4","#ff7f0e","#ff7f0e","#2ca02c","#2ca02c"]}, "legend": null},
  "strokeDash": {"field": "k", "type": "nominal", "scale": {"domain": ["a","b","c","d","e","f"], "range": [[1,0],[5,2.5],[1,0],[5,2.5],[1,0],[5,2.5]]}, "legend": null}
 }},
{"width": 249, "height": 185, "transform": [{"filter": "datum.p == 8"}],
 "mark": {"type": "line", "strokeWidth": 1.2, "clip": true},
 "encoding": {
  "x": {"field": "x", "type": "quantitative", "scale": {"domain": [-50, 1050], "nice": false, "zero": false}, "axis": {"values": [0,200,400,600,800,1000], "format": "d", "title": "Epoch"}},
  "y": {"field": "v", "type": "quantitative", "scale": {"domain": [0.075, 1.042], "nice": false, "zero": false}, "axis": {"values": [0.2,0.4,0.6,0.8,1.0], "format": ".1f", "title": "Axis alignment"}},
  "color": {"field": "k", "type": "nominal", "scale": {"domain": ["a","b","c","d","e","f"], "range": ["#1f77b4","#1f77b4","#ff7f0e","#ff7f0e","#2ca02c","#2ca02c"]}, "legend": null},
  "strokeDash": {"field": "k", "type": "nominal", "scale": {"domain": ["a","b","c","d","e","f"], "range": [[1,0],[5,2.5],[1,0],[5,2.5],[1,0],[5,2.5]]}, "legend": null}
 }}
],
"config": {
 "font": "DejaVu Sans",
 "view": {"stroke": "#222222", "strokeWidth": 1},
 "axis": {"grid": false, "domain": false, "tickColor": "#222222", "tickSize": 3.5, "labelFontSize": 9, "labelColor": "#222222", "labelPadding": 2, "titleFontWeight": "normal", "titleColor": "#111111"},
 "axisY": {"titleFontSize": 15, "titlePadding": 5},
 "axisX": {"titleFontSize": 11, "titlePadding": 6, "labelFlush": false}
}
}
